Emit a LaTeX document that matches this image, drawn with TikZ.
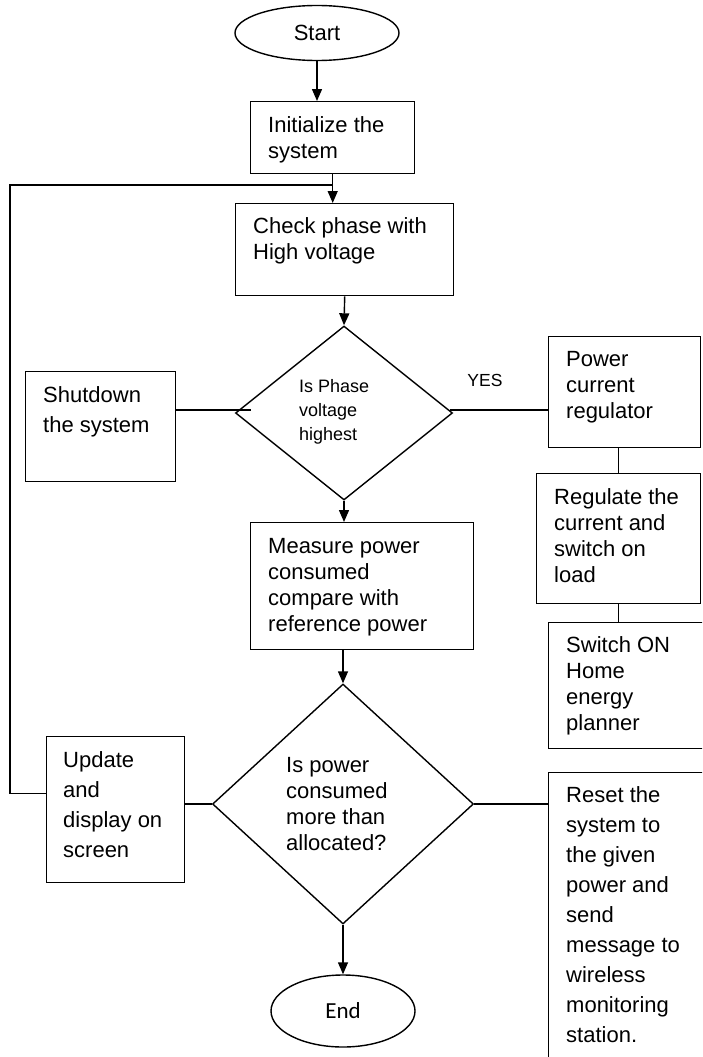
\documentclass[tikz,border=0pt]{standalone}
\usepackage{fontspec}
\setmainfont{Liberation Sans}
\newfontfamily\calib{Carlito}
\usetikzlibrary{arrows.meta,shapes.geometric}
\begin{document}
\begin{tikzpicture}[x=1pt,y=-1pt,
  ln/.style={line width=1.4pt},
  arr/.style={ln,-{Triangle[length=12pt,width=10pt]}},
  box/.style={draw,ln,rectangle,inner sep=0pt,anchor=north west},
  oval/.style={draw,ln,ellipse,inner sep=0pt},
  dia/.style={draw,ln,diamond,inner sep=0pt},
  txt/.style={inner sep=0pt,anchor=base west,font=\fontsize{22}{26}\selectfont},
  txtw/.style={inner sep=0pt,anchor=base west,font=\fontsize{22}{30}\selectfont},
  txts/.style={inner sep=0pt,anchor=base west,font=\fontsize{18}{24}\selectfont}
]
\path[use as bounding box] (0,0) rectangle (702,1057);
\clip (0,0) rectangle (702,1057);

% shapes
\node[oval,minimum width=164pt,minimum height=55pt,font=\fontsize{22}{26}\selectfont] (start) at (317,33) {Start};
\node[box,minimum width=164pt,minimum height=72pt] (init) at (250,101) {};
\node[box,minimum width=218pt,minimum height=92pt] (check) at (235,203) {};
\node[dia,minimum width=217pt,minimum height=174pt] (d1) at (344,413) {};
\node[box,minimum width=150pt,minimum height=110pt] (shut) at (25,371) {};
\node[box,minimum width=152pt,minimum height=111pt] (power) at (548,336) {};
\node[box,minimum width=164pt,minimum height=130pt] (reg) at (536,473) {};
\node[box,minimum width=160pt,minimum height=126pt] (sw) at (548,622) {};
\node[box,minimum width=223pt,minimum height=127pt] (meas) at (250,522) {};
\node[dia,minimum width=261pt,minimum height=240pt] (d2) at (343,804) {};
\node[box,minimum width=138pt,minimum height=146pt] (update) at (46,736) {};
\node[box,minimum width=160pt,minimum height=300pt] (reset) at (548,772) {};
\node[oval,minimum width=144pt,minimum height=72pt,font=\calib\fontsize{23}{26}\selectfont] (end) at (343,1011) {End};

% texts
\node[txt] (tinit) at (268,132) {\parbox[t]{160pt}{Initialize the\\system}};
\node[txt] (tcheck) at (253,233) {\parbox[t]{200pt}{Check phase with\\High voltage}};
\node[txts] (td1) at (299,392) {\parbox[t]{100pt}{Is Phase\\voltage\\highest}};
\node[txtw] (tshut) at (43,402) {\parbox[t]{140pt}{Shutdown\\the system}};
\node[inner sep=0pt,font=\fontsize{17.5}{20}\selectfont] (yes) at (485,380) {YES};
\node[txt] (tpower) at (566,366) {\parbox[t]{140pt}{Power\\current\\regulator}};
\node[txt] (treg) at (554,504) {\parbox[t]{150pt}{Regulate the\\current and\\switch on\\load}};
\node[txt] (tsw) at (566,652) {\parbox[t]{140pt}{Switch ON\\Home\\energy\\planner}};
\node[txt] (tmeas) at (268,553) {\parbox[t]{210pt}{Measure power\\consumed\\compare with\\reference power}};
\node[txt] (td2) at (286,772) {\parbox[t]{150pt}{Is power\\consumed\\more than\\allocated?}};
\node[txtw] (tupdate) at (63,767) {\parbox[t]{130pt}{Update\\and\\display on\\screen}};
\node[txtw] (treset) at (566,802) {\parbox[t]{140pt}{Reset the\\system to\\the given\\power and\\send\\message to\\wireless\\monitoring\\station.}};

% connectors
\coordinate (lx) at (10,185);
\coordinate (sx) at (251,410);
\coordinate (rx) at (450,410);
\draw[arr] (start.south) -- (start.south |- init.north);
\draw[arr] (init.south) -- (init.south |- check.north);
\draw[ln] ([yshift=16pt]update.west) -| (lx) -- (init.south |- lx);
\draw[arr] (check.south) -- (d1.north);
\draw[ln] (shut.east |- sx) -- (sx);
\draw[ln] (rx) -- (rx -| power.west);
\draw[ln] (reg.north |- power.south) -- (reg.north);
\draw[ln] (reg.south) -- (reg.south |- sw.north);
\draw[arr] (d1.south) -- (d1.south |- meas.north);
\draw[arr] (d2.north |- meas.south) -- (d2.north);
\draw[ln] (update.east |- d2.west) -- (d2.west);
\draw[ln] (d2.east) -- (d2.east -| reset.west);
\draw[arr] (d2.south) -- (end.north);
\end{tikzpicture}
\end{document}
